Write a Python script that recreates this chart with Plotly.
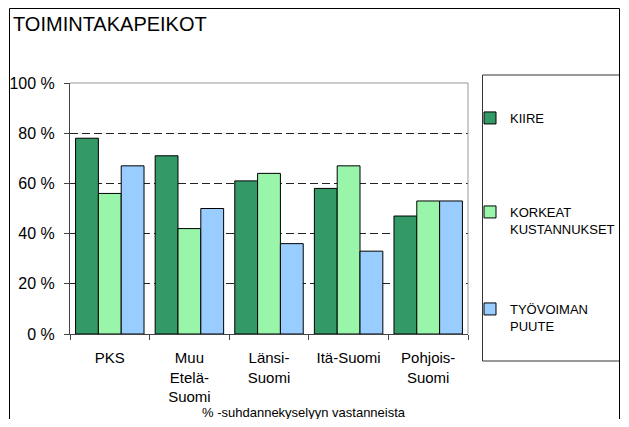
import plotly.graph_objects as go

regions = ["PKS", "Muu<br>Etelä-<br>Suomi", "Länsi-<br>Suomi", "Itä-Suomi", "Pohjois-<br>Suomi"]
kiire = [78, 71, 61, 58, 47]
korkeat_kustannukset = [56, 42, 64, 67, 53]
tyovoiman_puute = [67, 50, 36, 33, 53]
y_ticks = [0, 20, 40, 60, 80, 100]

series = [
    ("KIIRE", kiire, "#339966", "legend"),
    ("KORKEAT<br>KUSTANNUKSET", korkeat_kustannukset, "#99F5A9", "legend2"),
    ("TYÖVOIMAN<br>PUUTE", tyovoiman_puute, "#99CCFF", "legend3"),
]

FONT = "Liberation Sans, Arial, sans-serif"

fig = go.Figure()
for name, values, color, legend in series:
    fig.add_trace(go.Bar(
        x=regions,
        y=values,
        name=name,
        legend=legend,
        showlegend=True,
        marker=dict(color=color, line=dict(color="black", width=1)),
    ))

# the page body adds an 8px margin on every side, so the figure is drawn
# smaller; every position below is given in window pixels
OFF = 8
W, H = 629 - 2 * OFF, 427 - 2 * OFF
L, T = 70 - OFF, 83 - OFF
R = W - (468 - OFF)
B = H - (334 - OFF)
pw, ph = W - L - R, H - T - B


def px_x(x):
    return (x - OFF - L) / pw


def px_y(y):
    return (H - B - (y - OFF)) / ph


legend_common = dict(
    x=px_x(470), xanchor="left", yanchor="top",
    font=dict(family=FONT, size=13, color="black"),
    bgcolor="rgba(0,0,0,0)", borderwidth=0, valign="top",
)

fig.update_layout(
    width=W,
    height=H,
    margin=dict(l=L, r=R, t=T, b=B, autoexpand=False),
    paper_bgcolor="white",
    plot_bgcolor="white",
    font=dict(family=FONT, size=14, color="black"),
    showlegend=True,
    barmode="group",
    bargap=0.14,
    bargroupgap=0,
    title=dict(
        text="TOIMINTAKAPEIKOT",
        xref="container", yref="container",
        x=(13 - OFF) / W, xanchor="left",
        y=1 - (24 - OFF) / H, yanchor="middle",
        font=dict(family=FONT, size=20, color="black"),
    ),
    legend=dict(y=px_y(103), **legend_common),
    legend2=dict(y=px_y(197), **legend_common),
    legend3=dict(y=px_y(294), **legend_common),
    xaxis=dict(
        showgrid=False,
        showline=True, linecolor="#444", linewidth=1,
        ticks="outside", tickson="boundaries", ticklen=5, tickcolor="#444",
        ticklabelstandoff=10,
        tickfont=dict(family=FONT, size=15, color="black"),
        range=[-0.5, 4.5],
    ),
    yaxis=dict(
        range=[0, 100],
        tickvals=y_ticks,
        ticktext=[f"{v} %" for v in y_ticks],
        showgrid=True, gridcolor="#222", gridwidth=1, griddash="8px,4px",
        showline=True, linecolor="#444", linewidth=1,
        ticks="outside", ticklen=5, tickcolor="#444",
        ticklabelstandoff=6,
        tickfont=dict(family=FONT, size=16, color="black"),
        zeroline=False,
    ),
    shapes=[
        # plot area top and right border
        dict(type="line", xref="paper", yref="paper", x0=0, x1=1, y0=1, y1=1,
             line=dict(color="#999", width=1), layer="above"),
        dict(type="line", xref="paper", yref="paper", x0=1, x1=1, y0=0, y1=1,
             line=dict(color="#999", width=1), layer="above"),
        # legend box
        dict(type="rect", xref="paper", yref="paper",
             x0=px_x(482.5), x1=px_x(619.5), y0=px_y(361), y1=px_y(75),
             line=dict(color="#333", width=1)),
        # outer chart border
        dict(type="rect", xref="paper", yref="paper",
             x0=px_x(9.5), x1=px_x(619.5), y0=px_y(440), y1=px_y(8.5),
             line=dict(color="black", width=1)),
    ],
    annotations=[
        dict(text="% -suhdannekyselyyn vastanneista", xref="paper", yref="paper",
             x=px_x(304), y=px_y(412), xanchor="center", yanchor="middle",
             showarrow=False, font=dict(family=FONT, size=13, color="black")),
    ],
)

fig.write_html("out.html")
